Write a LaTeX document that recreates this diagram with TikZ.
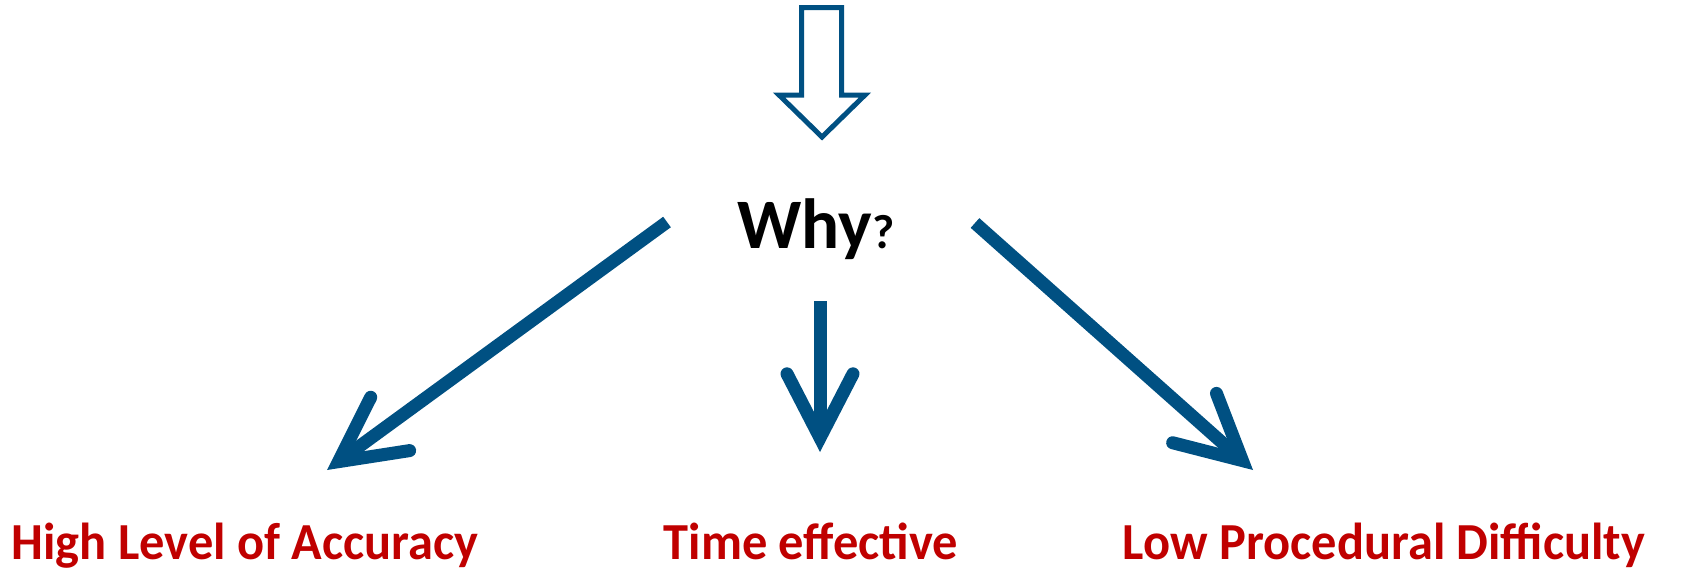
\documentclass[tikz,border=0pt]{standalone}
\usepackage{fontspec}
\setmainfont{Carlito}
\newfontfamily\lblfont[FakeStretch=0.97]{Carlito}
\usetikzlibrary{arrows.meta}
\definecolor{arrblue}{RGB}{0,80,130}
\definecolor{lblred}{RGB}{192,0,0}
\tikzset{
  bigarrow/.style={draw=arrblue, line width=13pt, line cap=butt,
    -{Straight Barb[length=64pt, width=66pt, line cap=round, line join=miter]}},
  hollowarrow/.style={draw=arrblue, line width=5pt, line join=miter, fill=white},
  lbl/.style={text=lblred, font=\lblfont\bfseries\fontsize{52}{52}\selectfont, anchor=base, inner sep=0pt},
  whylbl/.style={text=black, font=\bfseries\fontsize{71}{71}\selectfont, anchor=base, inner sep=0pt}
}
\begin{document}
\begin{tikzpicture}[x=1pt,y=-1pt]
\useasboundingbox (0,0) rectangle (1691,570);
% top hollow arrow
\draw[hollowarrow] (801.5,7.5) -- (841.5,7.5) -- (841.5,95) -- (865,95) -- (822,137) -- (779,95) -- (801.5,95) -- cycle;
% central question
\node[whylbl] (why) at (816,248) {Why{\fontsize{48}{48}\selectfont ?}};
% labels
\node[lbl] (acc) at (245,559) {High Level of Accuracy};
\node[lbl] (time) at (811,559) {Time effective};
\node[lbl] (low) at (1384,559) {Low Procedural Difficulty};
% arrow end points
\coordinate (ls) at (667,222);
\coordinate (le) at (327,470);
\coordinate (ms) at (820,301);
\coordinate (me) at (820,452);
\coordinate (rs) at (975,223);
\coordinate (re) at (1253,470);
\draw[bigarrow] (ls) -- (le);
\draw[bigarrow] (ms) -- (me);
\draw[bigarrow] (rs) -- (re);
\end{tikzpicture}
\end{document}
